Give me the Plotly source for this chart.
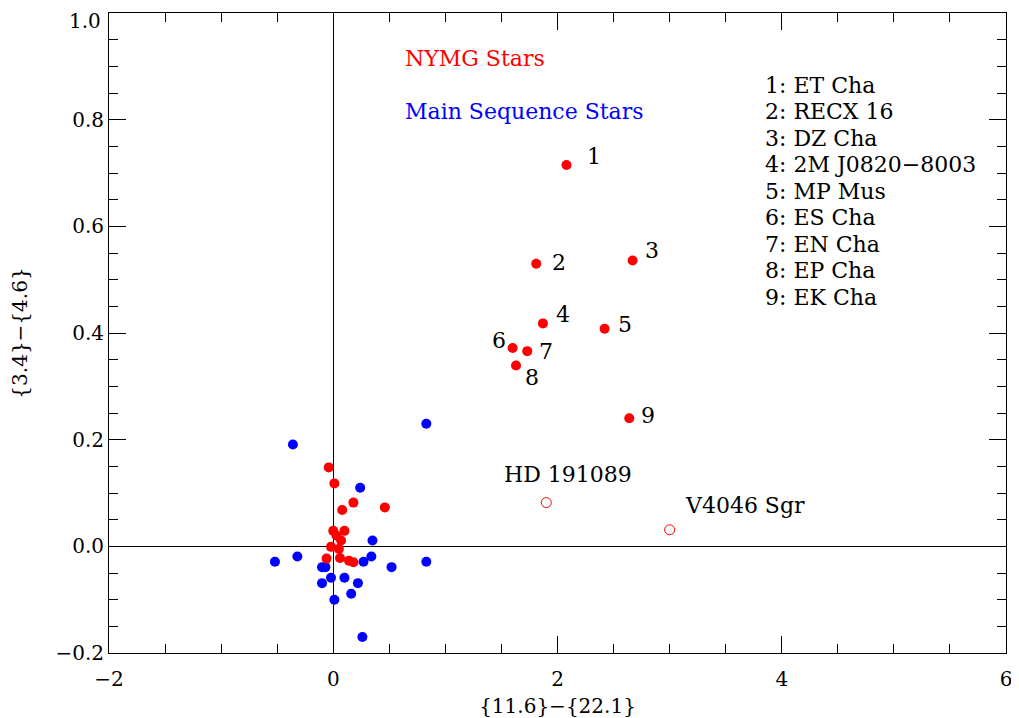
import plotly.graph_objects as go

# NYMG labeled stars
nymg_x = [2.08, 1.81, 2.67, 1.87, 2.42, 1.60, 1.73, 1.63, 2.64]
nymg_y = [0.715, 0.530, 0.536, 0.418, 0.408, 0.372, 0.366, 0.339, 0.240]
nymg_num = ["1", "2", "3", "4", "5", "6", "7", "8", "9"]
nymg_names = ["ET Cha", "RECX 16", "DZ Cha", "2M J0820\u22128003", "MP Mus",
              "ES Cha", "EN Cha", "EP Cha", "EK Cha"]
# label offsets (pixels) for numbers
lab_dx = [28, 23, 19, 20, 20, -14, 19, 16, 19]
lab_dy = [9, 1, 10, 9, 4, 7, 0, -12, 3]

# other NYMG stars near origin
nymg2_x = [-0.04, 0.01, 0.18, 0.08, 0.46, 0.00, 0.10, 0.03, 0.07, -0.02, 0.05, -0.06, 0.06, 0.14, 0.18]
nymg2_y = [0.148, 0.118, 0.082, 0.068, 0.073, 0.029, 0.029, 0.020, 0.011, -0.001, -0.005, -0.023, -0.022, -0.027, -0.030]

# main sequence stars
ms_x = [0.83, -0.36, 0.24, 0.35, -0.32, -0.52, 0.34, 0.27, 0.52, 0.83, -0.10, -0.07,
        -0.10, -0.02, 0.10, 0.22, 0.16, 0.01, 0.26]
ms_y = [0.230, 0.191, 0.110, 0.011, -0.019, -0.029, -0.019, -0.029, -0.039, -0.029, -0.039, -0.039,
        -0.069, -0.059, -0.059, -0.069, -0.089, -0.100, -0.170]

# open-circle stars
open_x = [1.90, 3.00]
open_y = [0.082, 0.031]
open_names = ["HD 191089", "V4046 Sgr"]

# y-axis ticks (top label drawn separately, inside the frame like the original)
y_tickvals = [-0.2, 0.0, 0.2, 0.4, 0.6, 0.8, 1.0]
y_ticktext = ["\u22120.2", "0.0", "0.2", "0.4", "0.6", "0.8", ""]
y_top_label = "1.0"

FONT = "DejaVu Serif"
FS = 20
AFS = 22
RED = "#ff0000"
BLUE = "#0000ff"

fig = go.Figure()
fig.add_trace(go.Scatter(x=ms_x, y=ms_y, mode="markers",
                         marker=dict(color=BLUE, size=10), showlegend=False))
fig.add_trace(go.Scatter(x=nymg2_x, y=nymg2_y, mode="markers",
                         marker=dict(color=RED, size=10), showlegend=False))
fig.add_trace(go.Scatter(x=nymg_x, y=nymg_y, mode="markers",
                         marker=dict(color=RED, size=10), showlegend=False))
fig.add_trace(go.Scatter(x=open_x, y=open_y, mode="markers",
                         marker=dict(color=RED, size=10, symbol="circle-open", line=dict(width=1)),
                         showlegend=False))

ann = []
for x, y, t, dx, dy in zip(nymg_x, nymg_y, nymg_num, lab_dx, lab_dy):
    ann.append(dict(x=x, y=y, text=t, showarrow=False, xshift=dx, yshift=dy,
                    font=dict(family=FONT, size=AFS, color="black")))
ann.append(dict(x=open_x[0], y=open_y[0], text=open_names[0], showarrow=False,
                xshift=22, yshift=28, font=dict(family=FONT, size=AFS, color="black")))
ann.append(dict(x=open_x[1], y=open_y[1], text=open_names[1], showarrow=False,
                xanchor="left", xshift=13, yshift=24, font=dict(family=FONT, size=AFS, color="black")))
ann.append(dict(x=0.62, y=0.914, text="NYMG Stars", showarrow=False, xanchor="left",
                font=dict(family=FONT, size=AFS, color=RED)))
ann.append(dict(x=0.62, y=0.815, text="Main Sequence Stars", showarrow=False, xanchor="left",
                font=dict(family=FONT, size=AFS, color=BLUE)))
for i, (n, s) in enumerate(zip(nymg_num, nymg_names)):
    ann.append(dict(x=3.83, y=0.865 - i * 0.0497, text=f"{n}: {s}", showarrow=False,
                    xanchor="left", yanchor="middle",
                    font=dict(family=FONT, size=AFS, color="black")))
ann.append(dict(xref="paper", x=0, y=y_tickvals[-1], text=y_top_label, showarrow=False,
                xanchor="right", yanchor="middle", xshift=-6, yshift=-8,
                font=dict(family=FONT, size=FS, color="black")))

axis_common = dict(showline=True, mirror="ticks", linecolor="black", linewidth=1,
                   ticks="inside", ticklen=17, tickwidth=1, tickcolor="black",
                   showgrid=False, zeroline=True, zerolinecolor="black", zerolinewidth=1,
                   automargin=False,
                   tickfont=dict(family=FONT, size=FS, color="black"),
                   minor=dict(ticks="inside", ticklen=9, tickwidth=1, tickcolor="black", showgrid=False))

fig.update_layout(
    width=1011, height=710,
    margin=dict(l=101, r=13, t=5, b=65),
    plot_bgcolor="white", paper_bgcolor="white",
    annotations=ann,
    xaxis=dict(range=[-2, 6], dtick=2, tick0=-2, ticklabelstandoff=8,
               title=dict(text="{11.6}\u2212{22.1}", font=dict(family=FONT, size=FS, color="black"), standoff=12),
               **{**axis_common, "minor": dict(axis_common["minor"], dtick=0.5)}),
    yaxis=dict(range=[-0.2, 1.0], tickmode="array", tickvals=y_tickvals, ticktext=y_ticktext,
               title=dict(text="{3.4}\u2212{4.6}", font=dict(family=FONT, size=FS, color="black"), standoff=22),
               **{**axis_common, "minor": dict(axis_common["minor"], tickmode="linear", tick0=0, dtick=0.05)}),
)
fig.write_html("out.html")
